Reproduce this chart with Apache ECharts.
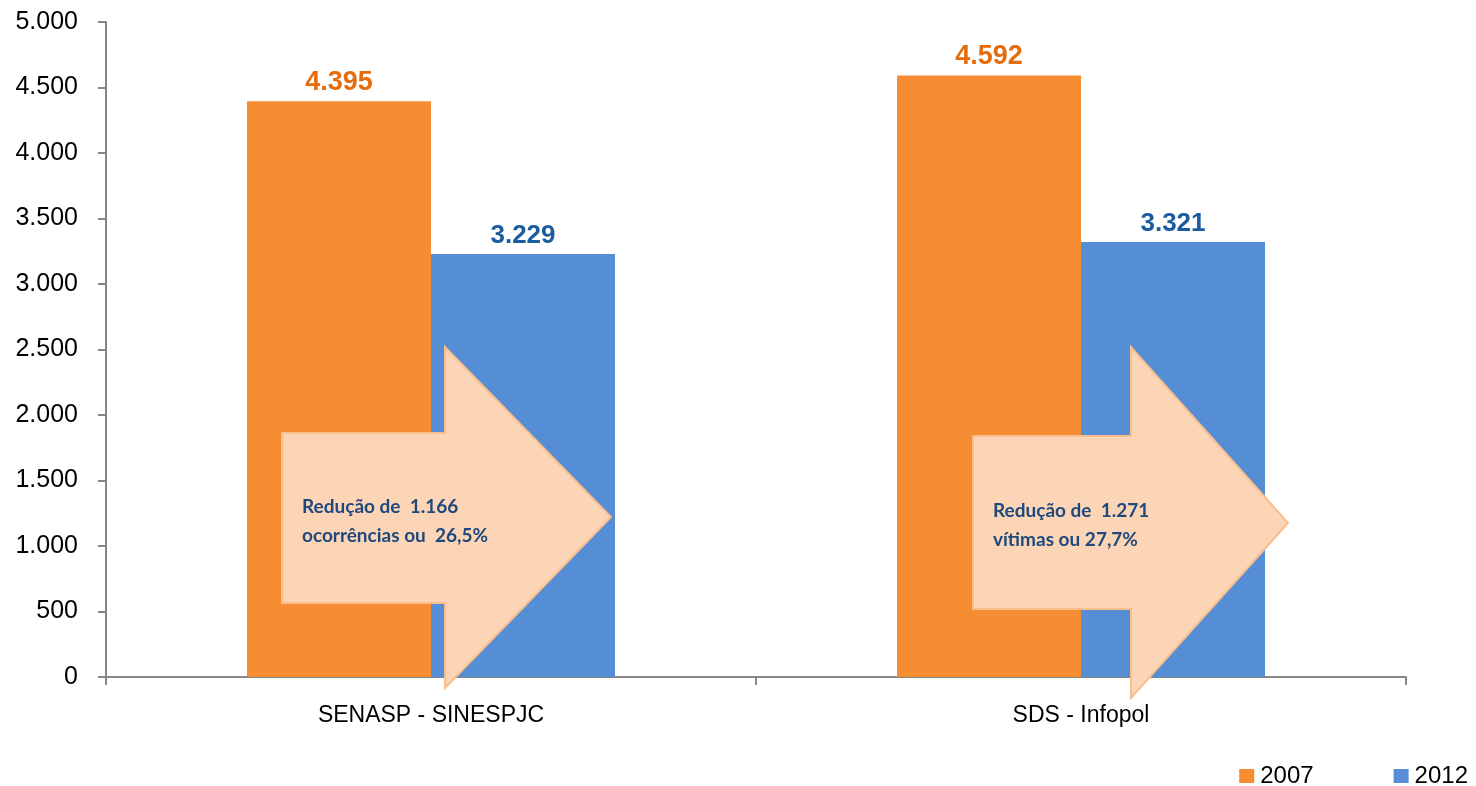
<!DOCTYPE html>
<html>
<head>
<meta charset="utf-8">
<script src="https://cdn.jsdelivr.net/npm/echarts@6/dist/echarts.min.js"></script>
<style>
html,body{margin:0;padding:0;background:#fff;}
#chart{width:1476px;height:786px;}
</style>
</head>
<body>
<div id="chart"></div>
<script>
const categories = ['SENASP - SINESPJC', 'SDS - Infopol'];
const seriesNames = ['2007', '2012'];
const values2007 = [4395, 4592];
const values2012 = [3229, 3321];
const yTicks = { min: 0, max: 5000, interval: 500 };
const arrowTexts = [
  ['Redução de  1.166', 'ocorrências ou  26,5%'],
  ['Redução de  1.271', 'vítimas ou 27,7%']
];

function fmt(v) {
  return String(v).replace(/\B(?=(\d{3})+(?!\d))/g, '.');
}

const chart = echarts.init(document.getElementById('chart'));
const font = '"Liberation Sans", Arial, sans-serif';

function arrow(sl, st, sb, sr, ht, hb, tx, ty) {
  return {
    type: 'polygon', z: 100,
    shape: { points: [[sl, st], [sr, st], [sr, ht], [tx, ty], [sr, hb], [sr, sb], [sl, sb]] },
    style: { fill: '#FBD5B5', stroke: '#F9BE8C', lineWidth: 2 }
  };
}
function atext(x, y, lines) {
  return {
    type: 'text', z: 101, x: x, y: y,
    style: { text: lines.join('\n'), fill: '#1F497D', font: 'bold 19px Lato, "Open Sans", sans-serif', lineHeight: 29, textVerticalAlign: 'middle' }
  };
}

chart.setOption({
  animation: false,
  grid: { left: 106, right: 70, top: 22, bottom: 109 },
  legend: {
    data: seriesNames,
    right: 3, top: 759,
    itemWidth: 15, itemHeight: 14, itemGap: 80,
    icon: 'rect',
    textStyle: { fontFamily: font, fontSize: 24, color: '#000', padding: [0, 0, 0, 1] }
  },
  xAxis: {
    type: 'category',
    data: categories,
    axisLine: { lineStyle: { color: '#868686', width: 2 } },
    axisTick: { show: true, length: 8, lineStyle: { color: '#868686', width: 2 } },
    axisLabel: { fontFamily: font, fontSize: 23, color: '#000', margin: 27 }
  },
  yAxis: {
    type: 'value',
    min: yTicks.min, max: yTicks.max, interval: yTicks.interval,
    splitLine: { show: false },
    axisLine: { show: true, lineStyle: { color: '#868686', width: 2 } },
    axisTick: { show: true, length: 8, lineStyle: { color: '#868686', width: 2 } },
    axisLabel: { fontFamily: font, fontSize: 25, color: '#000', margin: 28, formatter: fmt }
  },
  series: [
    {
      name: seriesNames[0], type: 'bar', data: values2007,
      barWidth: 184, barGap: '0%',
      itemStyle: { color: '#F68D32' },
      label: { show: true, position: 'top', distance: 5, fontFamily: font, fontWeight: 'bold', fontSize: 27, color: '#E46C0A', formatter: p => fmt(p.value) }
    },
    {
      name: seriesNames[1], type: 'bar', data: values2012,
      barWidth: 184, barGap: '0%',
      itemStyle: { color: '#558ED5' },
      label: { show: true, position: 'top', distance: 5, fontFamily: font, fontWeight: 'bold', fontSize: 26, color: '#1A5C9E', formatter: p => fmt(p.value) }
    }
  ],
  graphic: [
    arrow(282, 433, 603, 445, 347, 688, 611, 517),
    atext(302, 521, arrowTexts[0]),
    arrow(973, 436, 609, 1131, 347, 698, 1288, 523),
    atext(993, 525, arrowTexts[1])
  ]
});
</script>
</body>
</html>
